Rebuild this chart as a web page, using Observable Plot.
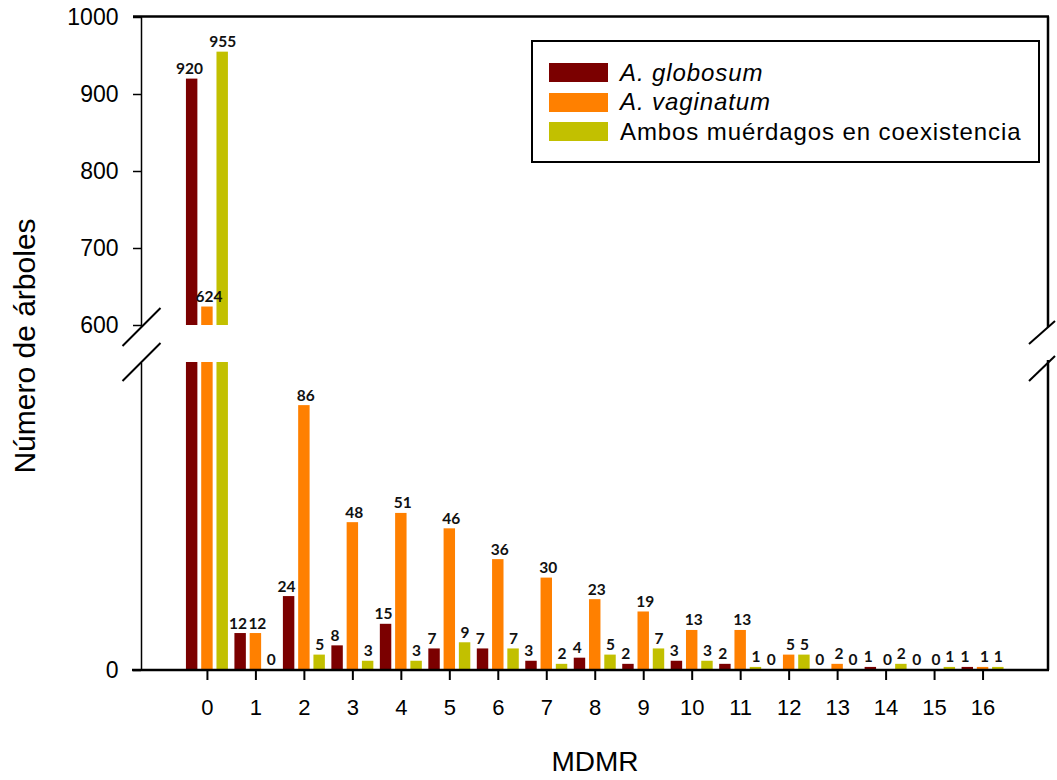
<!DOCTYPE html>
<html><head><meta charset="utf-8">
<script src="https://cdn.jsdelivr.net/npm/d3@7"></script>
<script src="https://cdn.jsdelivr.net/npm/@observablehq/plot@0.6"></script>
<style>
body{margin:0;background:#fff;font-family:"Liberation Sans",Arial,sans-serif}
#wrap{position:relative;width:1057px;height:780px}
#legend{position:absolute;left:531px;top:40px;width:505px;height:119px;border:2px solid #000;background:#fff}
.row{position:absolute;left:16px;height:19px;display:flex;align-items:center}
.sw{width:59px;height:19px;margin-right:12px;flex:none}
.lab{font-size:24px;white-space:nowrap;letter-spacing:0.9px;color:#000}
</style></head><body><div id="wrap"></div>
<script>
// ---- data ----
const mdmr = [0, 1, 2, 3, 4, 5, 6, 7, 8, 9, 10, 11, 12, 13, 14, 15, 16];
const globosum  = [920, 12, 24, 8, 15, 7, 7, 3, 4, 2, 3, 2, 0, 0, 1, 0, 1];
const vaginatum = [624, 12, 86, 48, 51, 46, 36, 30, 23, 19, 13, 13, 5, 2, 0, 0, 1];
const ambos     = [955, 0, 5, 3, 3, 9, 7, 2, 5, 7, 3, 1, 5, 0, 2, 1, 1];
const series = ["A. globosum", "A. vaginatum", "Ambos muérdagos en coexistencia"];
const italic = [true, true, false];
const colors = ["#7b0000", "#ff8000", "#c2c000"];
const yTicks = [0, 600, 700, 800, 900, 1000];
const yLabel = "Número de árboles";
const xLabel = "MDMR";

// ---- layout ----
const W = 1057, H = 780;
const mL = 141, mR = 9, mT = 17, mB = 110;
const step = 0.315, half = 0.118;          // grouped-bar layout within one MDMR unit
const labelNudge = [-0.055, 0.03, 0];       // small label spread so neighbours do not collide

const values = [globosum, vaginatum, ambos];
const rows = mdmr.flatMap((m, k) => series.map((s, i) => ({mdmr: m, serie: s, idx: i, value: values[i][k]})));
const cx = d => d.mdmr + (d.idx - 1) * step;

const plot = Plot.plot({
  width: W, height: H,
  marginLeft: mL, marginRight: mR, marginTop: mT, marginBottom: mB,
  style: {fontFamily: "Liberation Sans, Arial, sans-serif", background: "white", color: "#000"},
  x: {type: "linear", domain: [-1.36, 17.35]},
  y: {type: "linear", domain: [0, 100, 600, 1000], range: [H - mB, 362, 325, mT]},
  color: {domain: series, range: colors},
  marks: [
    // lower segment of the broken axis (0–100)
    Plot.rect(rows, {x1: d => cx(d) - half, x2: d => cx(d) + half, y1: 0, y2: d => Math.min(d.value, 100), fill: "serie"}),
    // upper segment (600–1000)
    Plot.rect(rows.filter(d => d.value > 600), {x1: d => cx(d) - half, x2: d => cx(d) + half, y1: 600, y2: "value", fill: "serie"}),
    Plot.text(rows.filter(d => d.value <= 100 || d.value > 600), {
      x: d => cx(d) + labelNudge[d.idx], y: "value", text: d => String(d.value), dy: -10,
      fontFamily: "Lato, sans-serif", fontWeight: "bold", fontSize: 15.5, fill: "#111"
    }),
    Plot.axisY({ticks: yTicks, tickFormat: d => String(d), tickSize: 8, tickPadding: 15, fontSize: 23, label: null, strokeWidth: 1.5}),
    Plot.axisX({ticks: mdmr, tickFormat: d => String(d), tickSize: 10, tickPadding: 19, fontSize: 22, label: null, strokeWidth: 2}),
    Plot.text([yLabel], {text: d => d, frameAnchor: "left", textAnchor: "middle", lineAnchor: "middle", dx: -116, dy: 2, rotate: -90, fontSize: 30}),
    Plot.text([xLabel], {text: d => d, frameAnchor: "bottom", textAnchor: "middle", lineAnchor: "middle", dy: 92, fontSize: 28})
  ]
});

document.getElementById("wrap").appendChild(plot);

// ---- frame with axis break ----
const ys = plot.scale("y");
const yTop = ys.apply(1000), yHi = ys.apply(600), yLo = ys.apply(100), yBot = ys.apply(0);
const xL = mL + 0.5, xR = W - mR;
const g = d3.select(plot).append("g").attr("stroke", "#000").attr("fill", "none").attr("stroke-linecap", "butt");
const seg = (x1, y1, x2, y2, w) => g.append("line").attr("x1", x1).attr("y1", y1).attr("x2", x2).attr("y2", y2).attr("stroke-width", w);
seg(xL, yTop, xL, yHi + 2, 1.5);
seg(xL, yLo + 1, xL, yBot, 1.5);
seg(mL - 8, yTop - 0.5, xR + 1, yTop - 0.5, 2.5);
seg(xR, yTop - 0.5, xR, yHi + 2, 2.5);
seg(xR, yLo - 2, xR, yBot, 2.5);
seg(mL - 9, yBot, xR + 1, yBot, 2.5);
// break marks
seg(xL - 19, yHi + 21, xL + 19, yHi - 17, 2);
seg(xL - 19, yLo + 19, xL + 19, yLo - 19, 2);
seg(xR - 19, yHi + 19, xR + 7, yHi - 4, 2);
seg(xR - 19, yLo + 19, xR + 7, yLo - 6, 2);

// ---- legend (inside the plot area) ----
const leg = document.createElement("div");
leg.id = "legend";
series.forEach((s, i) => {
  const r = document.createElement("div");
  r.className = "row";
  r.style.top = (21 + i * 29.5) + "px";
  const sw = document.createElement("div");
  sw.className = "sw"; sw.style.background = colors[i];
  const t = document.createElement("span");
  t.className = "lab"; t.textContent = s;
  if (italic[i]) t.style.fontStyle = "italic";
  r.appendChild(sw); r.appendChild(t);
  leg.appendChild(r);
});
document.getElementById("wrap").appendChild(leg);
</script>
</body></html>
